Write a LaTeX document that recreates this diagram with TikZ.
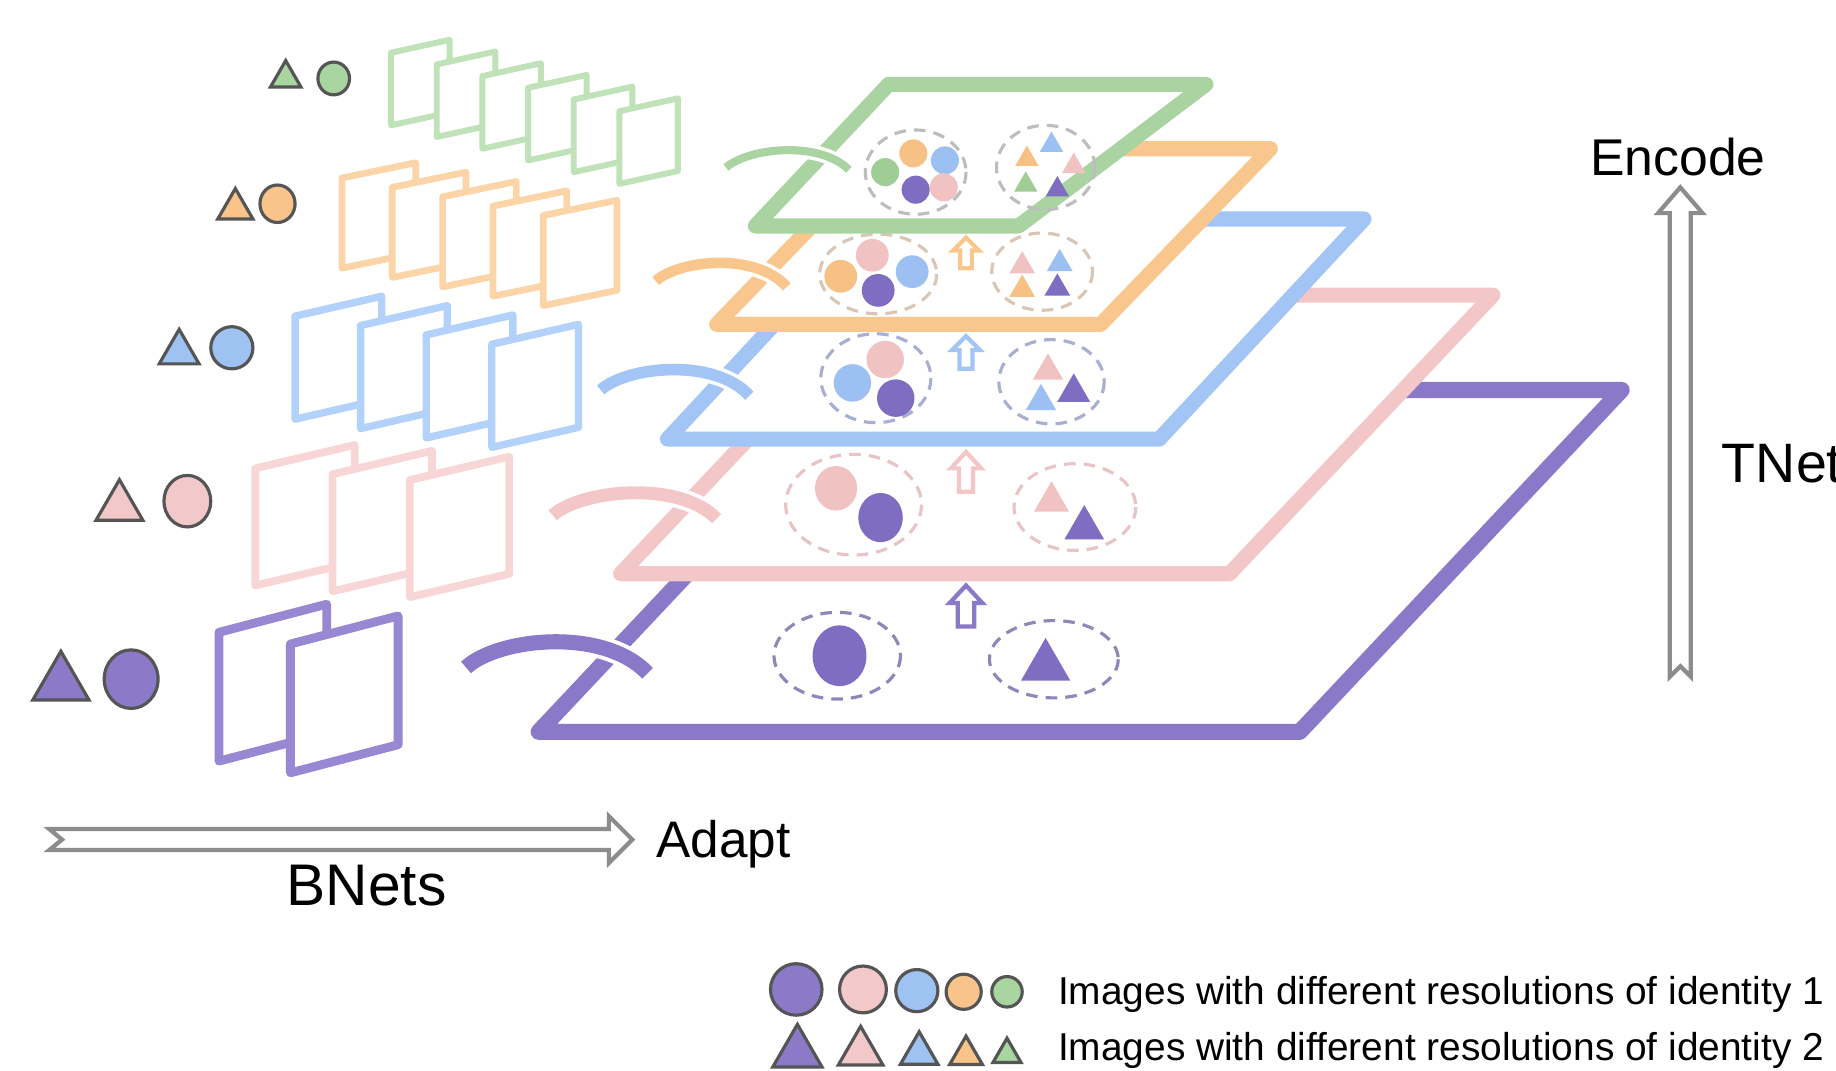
\documentclass[tikz,border=0pt]{standalone}
\usepackage{fontspec}
\setmainfont{Liberation Sans}
\definecolor{cpur}{HTML}{8A79C8}
\definecolor{cpink}{HTML}{F3C7C7}
\definecolor{cblue}{HTML}{A3C5F5}
\definecolor{corange}{HTML}{F9C78D}
\definecolor{cgreen}{HTML}{A9D4A1}
\definecolor{fpur}{HTML}{7F6DC2}
\definecolor{fpink}{HTML}{F0C2C2}
\definecolor{fblue}{HTML}{9DC0F3}
\definecolor{forange}{HTML}{F7C084}
\definecolor{fgreen}{HTML}{9FCD95}
\definecolor{frpur}{HTML}{9887D2}
\definecolor{frpink}{HTML}{F9D6D6}
\definecolor{frblue}{HTML}{B3D2FB}
\definecolor{frorange}{HTML}{FBD5A8}
\definecolor{frgreen}{HTML}{C0E2B8}
\definecolor{dpur}{HTML}{8E88B8}
\definecolor{dpink}{HTML}{E8C4C6}
\definecolor{dblue}{HTML}{A8AFD0}
\definecolor{dorange}{HTML}{D9C6B4}
\definecolor{dgreen}{HTML}{BDBDBD}
\definecolor{lgray}{HTML}{555555}
\definecolor{agray}{HTML}{8C8C8C}
\definecolor{lpur}{HTML}{8C7AC8}
\definecolor{lpink}{HTML}{F2C8C8}
\definecolor{lblue}{HTML}{9EC2F2}
\definecolor{lorange}{HTML}{F8C48A}
\definecolor{lgreen}{HTML}{A8D5A0}

\newcommand\frm[6]{\filldraw[frmbox,#1] ({#2},{#3}) -- ({#2+#4},{#3-#6}) -- ({#2+#4},{#3-#6+#5}) -- ({#2},{#3+#5}) -- cycle;}
\newcommand\tri[4][]{\path[#1] ({#2},{#3}) ++(0,{-0.433*#4}) -- ++({#4/2},{0.866*#4}) -- ++({-#4},0) -- cycle;}
\newcommand\uparr[7]{\draw[hollow,#1] ({#2},{#3}) -- ({#2+#5},{#3+#7}) -- ({#2+#6},{#3+#7}) -- ({#2+#6},{#3+#4}) -- ({#2-#6},{#3+#4}) -- ({#2-#6},{#3+#7}) -- ({#2-#5},{#3+#7}) -- cycle;}

\begin{document}
\begin{tikzpicture}[x=0.011709cm,y=-0.011709cm,
  plane/.style={fill=white, line join=round, line width=4.3pt},
  frmbox/.style={fill=white, line join=round},
  dsh/.style={dash pattern=on 3.3pt off 2.3pt, line width=0.9pt},
  legshape/.style={draw=lgray, line width=0.9pt},
  hollow/.style={draw=agray, fill=white, line width=1.2pt, line join=miter},
  halo/.style={draw=white},
  txt/.style={inner sep=0pt, text=black}]
\useasboundingbox (0,0) rectangle (1568,914);

% ---------- left legend shapes ----------
\tri[legshape, fill=lgreen]{244}{63}{26}
\draw[legshape, fill=lgreen] (285,67) ellipse [x radius=13.5, y radius=14];
\tri[legshape, fill=lorange]{201}{174}{30}
\draw[legshape, fill=lorange] (237,174) ellipse [x radius=15, y radius=16];
\tri[legshape, fill=lblue]{153}{296}{34}
\draw[legshape, fill=lblue] (198,297) ellipse [x radius=18, y radius=18];
\tri[legshape, fill=lpink]{102}{427}{40}
\draw[legshape, fill=lpink] (160,428) ellipse [x radius=20, y radius=22];
\tri[legshape, fill=lpur]{52}{577}{48}
\draw[legshape, fill=lpur] (112,580) ellipse [x radius=23, y radius=25];

% ---------- frames ----------
\foreach \i in {0,...,5} {\frm{draw=frgreen, line width=1.7pt}{334+39*\i}{45+10*\i}{50}{62}{11}}
\foreach \i in {0,...,4} {\frm{draw=frorange, line width=1.9pt}{292+43*\i}{152+8*\i}{63}{77}{13}}
\foreach \i in {0,...,3} {\frm{draw=frblue, line width=2.1pt}{252+56*\i}{270+8*\i}{74}{88}{17}}
\foreach \i in {0,...,2} {\frm{draw=frpink, line width=2.2pt}{218+66*\i}{400+5*\i}{85}{100}{20}}
\foreach \i in {0,...,1} {\frm{draw=frpur, line width=2.5pt}{187+61*\i}{540+10*\i}{92}{110}{24}}

% ---------- purple plane ----------
\draw[plane, draw=cpur, line width=4.6pt] (460,625) -- (1110,625) -- (1385,333) -- (735,333) -- cycle;
\draw[dsh, draw=dpur] (715,560) ellipse [x radius=54, y radius=37];
\fill[fpur] (717,560) ellipse [x radius=23, y radius=26];
\draw[dsh, draw=dpur] (900,563) ellipse [x radius=55, y radius=33];
\tri[fill=fpur]{893}{563}{42}
\uparr{draw=cpur}{825}{500}{35}{14}{7}{15}
\draw[halo, line width=6.5pt] (398,570) .. controls (425,545) and (515,535) .. (553,575);
\draw[cpur, line width=4.3pt] (398,570) .. controls (425,545) and (515,535) .. (553,575);

% ---------- pink plane ----------
\draw[plane, draw=cpink] (530,490) -- (1050,490) -- (1275,252) -- (755,252) -- cycle;
\draw[dsh, draw=dpink] (729,431) ellipse [x radius=58, y radius=43];
\fill[fpink] (714,417) ellipse [x radius=18, y radius=19];
\fill[fpur] (752,442) ellipse [x radius=19, y radius=21];
\draw[dsh, draw=dpink] (918,433) ellipse [x radius=52, y radius=37];
\tri[fill=fpink]{898}{424}{30}
\tri[fill=fpur]{926}{446}{34}
\uparr{draw=cpink}{825}{386}{34}{13}{6}{14}
\draw[halo, line width=5.8pt] (472,440) .. controls (497,418) and (580,410) .. (612,443);
\draw[cpink, line width=3.7pt] (472,440) .. controls (497,418) and (580,410) .. (612,443);

% ---------- blue plane ----------
\draw[plane, draw=cblue] (570,375) -- (990,375) -- (1165,187) -- (745,187) -- cycle;
\draw[dsh, draw=dblue] (748,323) ellipse [x radius=47, y radius=38];
\fill[fpink] (756,307) circle [radius=16];
\fill[fblue] (728,327) circle [radius=16];
\fill[fpur] (765,340) circle [radius=16];
\draw[dsh, draw=dblue] (898,326) ellipse [x radius=45, y radius=36];
\tri[fill=fpink]{895}{313}{26}
\tri[fill=fblue]{889}{339}{26}
\tri[fill=fpur]{917}{331}{28}
\uparr{draw=cblue}{825}{287}{28}{12}{5.5}{12}
\draw[halo, line width=5.3pt] (513,333) .. controls (535,313) and (610,305) .. (640,338);
\draw[cblue, line width=3.3pt] (513,333) .. controls (535,313) and (610,305) .. (640,338);

% ---------- orange plane ----------
\draw[plane, draw=corange] (612,277) -- (940,277) -- (1085,127) -- (757,127) -- cycle;
\draw[dsh, draw=dorange] (750,234) ellipse [x radius=50, y radius=34];
\fill[fpink] (745,218) circle [radius=14];
\fill[forange] (718,236) circle [radius=14];
\fill[fblue] (779,232) circle [radius=14];
\fill[fpur] (750,248) circle [radius=14];
\draw[dsh, draw=dorange] (890,232) ellipse [x radius=43, y radius=33];
\tri[fill=fpink]{873}{224}{22}
\tri[fill=fblue]{905}{222}{22}
\tri[fill=forange]{873}{244}{22}
\tri[fill=fpur]{903}{243}{22}
\uparr{draw=corange}{825}{203}{26}{11}{5}{11}
\draw[halo, line width=5pt] (560,240) .. controls (580,222) and (645,215) .. (672,245);
\draw[corange, line width=3pt] (560,240) .. controls (580,222) and (645,215) .. (672,245);

% ---------- green plane ----------
\draw[plane, draw=cgreen] (645,193) -- (870,193) -- (1030,72) -- (759,72) -- cycle;
\draw[dsh, draw=dgreen] (782,147) ellipse [x radius=43, y radius=36];
\fill[forange] (780,131) circle [radius=12];
\fill[fblue] (807,137) circle [radius=12];
\fill[fgreen] (756,147) circle [radius=12];
\fill[fpur] (782,162) circle [radius=12];
\fill[fpink] (806,160) circle [radius=12];
\draw[dsh, draw=dgreen] (893,143) ellipse [x radius=42, y radius=36];
\tri[fill=fblue]{898}{121}{20}
\tri[fill=forange]{877}{133}{20}
\tri[fill=fpink]{917}{139}{20}
\tri[fill=fgreen]{876}{155}{20}
\tri[fill=fpur]{903}{159}{20}
\draw[halo, line width=4.3pt] (620,143) .. controls (640,126) and (700,120) .. (725,145);
\draw[cgreen, line width=2.3pt] (620,143) .. controls (640,126) and (700,120) .. (725,145);

% ---------- big arrows ----------
\draw[hollow] (1435,160) -- (1454,182) -- (1444,182) -- (1444,578) -- (1435,569) -- (1426,578) -- (1426,182) -- (1416,182) -- cycle;
\draw[hollow] (540,717) -- (520,697) -- (520,708) -- (42,708) -- (53,717) -- (42,726) -- (520,726) -- (520,737) -- cycle;

% ---------- texts ----------
\node[txt, anchor=base] (enc) at (1433,150) {\fontsize{14.7}{16}\selectfont Encode};
\node[txt, anchor=base west] (tnet) at (1470,412) {\fontsize{15.8}{17}\selectfont TNets};
\node[txt, anchor=base west] (adapt) at (560,732) {\fontsize{14.6}{16}\selectfont Adapt};
\node[txt, anchor=base] (bnets) at (313,773) {\fontsize{16.7}{18}\selectfont BNets};

% ---------- bottom legend ----------
\draw[legshape, fill=lpur] (680,845) ellipse [x radius=22, y radius=22];
\draw[legshape, fill=lpink] (737,845) ellipse [x radius=20, y radius=20];
\draw[legshape, fill=lblue] (783,846) ellipse [x radius=18, y radius=18];
\draw[legshape, fill=lorange] (823,847) ellipse [x radius=15, y radius=15];
\draw[legshape, fill=lgreen] (860,847) ellipse [x radius=13, y radius=13];
\tri[legshape, fill=lpur]{681}{893}{42}
\tri[legshape, fill=lpink]{735}{893}{38}
\tri[legshape, fill=lblue]{785}{895}{32}
\tri[legshape, fill=lorange]{825}{897}{28}
\tri[legshape, fill=lgreen]{860}{897}{24}
\node[txt, anchor=base west] (leg1) at (903,858) {\fontsize{11.05}{12}\selectfont Images with different resolutions of identity 1};
\node[txt, anchor=base west] (leg2) at (903,906) {\fontsize{11.05}{12}\selectfont Images with different resolutions of identity 2};
\end{tikzpicture}
\end{document}
